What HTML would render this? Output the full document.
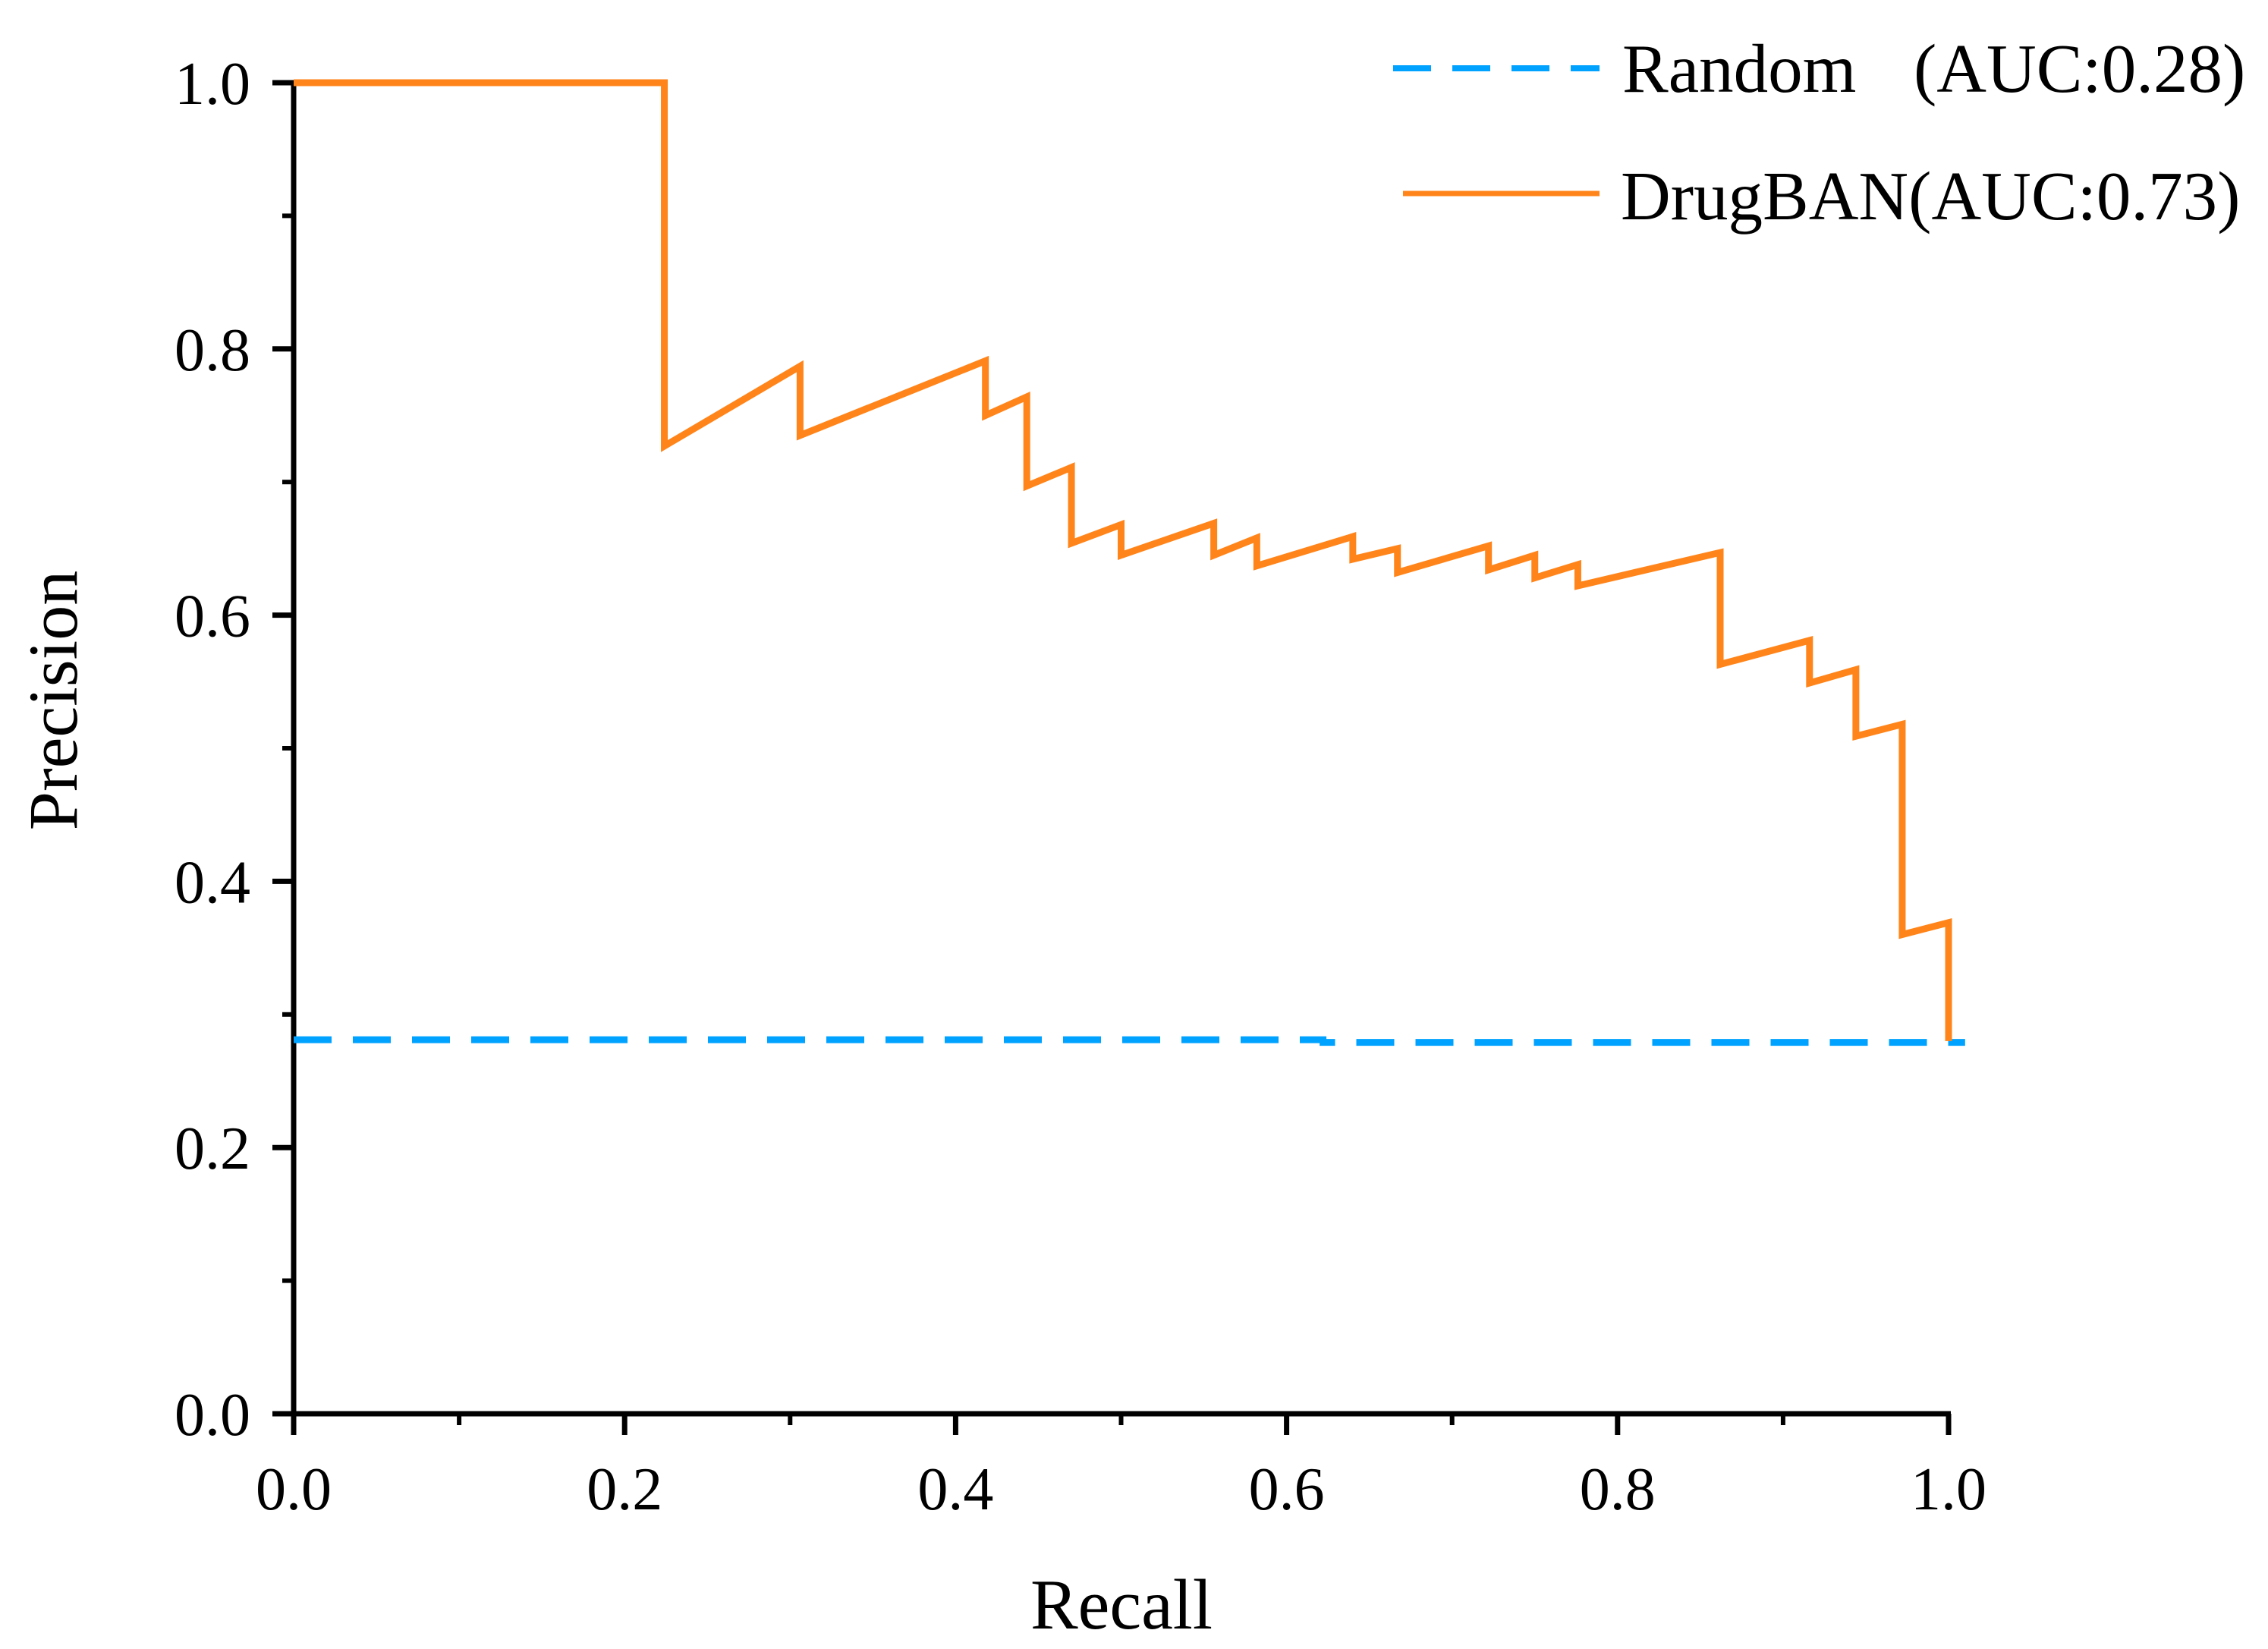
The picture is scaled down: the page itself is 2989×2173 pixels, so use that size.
<!DOCTYPE html>
<html><head><meta charset="utf-8"><style>
html,body{margin:0;padding:0;background:#fff;}
svg{display:block;font-family:"Liberation Serif",serif;}
</style></head><body>
<svg id="chart" width="2989" height="2173" viewBox="0 0 2989 2173">
<g id="axes"></g>
<g id="series"></g>
<text x="1478" y="2146" font-size="94" text-anchor="middle">Recall</text>
<text transform="translate(80,923) rotate(-90)" font-size="92" text-anchor="middle" dominant-baseline="middle">Precision</text>
<g>
<line x1="1836" y1="90" x2="2108" y2="90" stroke="#00a2ff" stroke-width="8" stroke-dasharray="50,28"/>
<text x="2138" y="121" font-size="91">Random</text>
<text x="2522" y="121" font-size="91">(AUC:0.28)</text>
<line x1="1849" y1="255" x2="2108" y2="255" stroke="#ff851b" stroke-width="7"/>
<text x="2136" y="289" font-size="91">DrugBAN(AUC:0.73)</text>
</g>
</svg>
<script>
const xTicks = [0, 0.2, 0.4, 0.6, 0.8, 1.0];
const xTickLabels = ["0.0", "0.2", "0.4", "0.6", "0.8", "1.0"];
const yTicks = [0, 0.2, 0.4, 0.6, 0.8, 1.0];
const yTickLabels = ["0.0", "0.2", "0.4", "0.6", "0.8", "1.0"];
const drugbanRecall = [0, 0.224, 0.224, 0.306, 0.306, 0.418, 0.418, 0.443, 0.443, 0.47, 0.47, 0.5, 0.5, 0.556, 0.556, 0.582, 0.582, 0.64, 0.64, 0.667, 0.667, 0.722, 0.722, 0.75, 0.75, 0.776, 0.776, 0.862, 0.862, 0.916, 0.916, 0.944, 0.944, 0.972, 0.972, 1.0, 1.0];
const drugbanPrecision = [1.0, 1.0, 0.727, 0.787, 0.735, 0.791, 0.75, 0.764, 0.697, 0.711, 0.654, 0.668, 0.645, 0.669, 0.645, 0.658, 0.637, 0.659, 0.642, 0.65, 0.632, 0.652, 0.634, 0.645, 0.628, 0.638, 0.622, 0.647, 0.563, 0.581, 0.549, 0.559, 0.509, 0.518, 0.36, 0.369, 0.28];
const randomRecall = [0, 0.622, 0.622, 1.01];
const randomPrecision = [0.281, 0.281, 0.279, 0.279];

const X0 = 387, X1 = 2568, Y0 = 1863, Y1 = 109;
function sx(v){ return X0 + v * (X1 - X0); }
function sy(v){ return Y0 - v * (Y0 - Y1); }
const NS = "http://www.w3.org/2000/svg";
function mk(tag, attrs, parent){
  const e = document.createElementNS(NS, tag);
  for (const k in attrs) e.setAttribute(k, attrs[k]);
  parent.appendChild(e);
  return e;
}
const axes = document.getElementById('axes');
const series = document.getElementById('series');

let l = mk('line', {x1: X0, y1: Y0, x2: X1 + 3, y2: Y0, stroke: '#000', 'stroke-width': 7}, axes);


l = mk('line', {x1: X0, y1: Y0 + 3, x2: X0, y2: Y1 - 3, stroke: '#000', 'stroke-width': 7}, axes);



for (let i = 0; i < 10; i++) {
  const v = 0.1 * i + 0.1;
  const major = (i % 2 === 1);
  if (!major) {
    let t = mk('line', {x1: sx(v), y1: Y0, x2: sx(v), y2: Y0 + 15, stroke: '#000', 'stroke-width': 6}, axes);
    
    
    t = mk('line', {x1: X0, y1: sy(v), x2: X0 - 15, y2: sy(v), stroke: '#000', 'stroke-width': 6}, axes);
    
    
  }
}
xTicks.forEach((v, i) => {
  const t = mk('line', {x1: sx(v), y1: Y0, x2: sx(v), y2: Y0 + 28, stroke: '#000', 'stroke-width': 7}, axes);
  
  
  const tx = mk('text', {x: sx(v), y: 1989, 'font-size': 80, 'text-anchor': 'middle'}, axes);
  tx.textContent = xTickLabels[i];
  
  
});
yTicks.forEach((v, i) => {
  const t = mk('line', {x1: X0, y1: sy(v), x2: X0 - 28, y2: sy(v), stroke: '#000', 'stroke-width': 7}, axes);
  
  
  const tx = mk('text', {x: 330, y: sy(v) + 28, 'font-size': 80, 'text-anchor': 'end'}, axes);
  tx.textContent = yTickLabels[i];
  
  
});

const rp = randomRecall.map((r, i) => sx(r) + ',' + sy(randomPrecision[i])).join(' ');
const rl = mk('polyline', {points: rp, fill: 'none', stroke: '#00a2ff', 'stroke-width': 9, 'stroke-dasharray': '50,28'}, series);



const dp = drugbanRecall.map((r, i) => sx(r) + ',' + sy(drugbanPrecision[i])).join(' ');
const dl = mk('polyline', {points: dp, fill: 'none', stroke: '#ff851b', 'stroke-width': 9, 'stroke-linejoin': 'miter'}, series);


</script>
</body></html>
